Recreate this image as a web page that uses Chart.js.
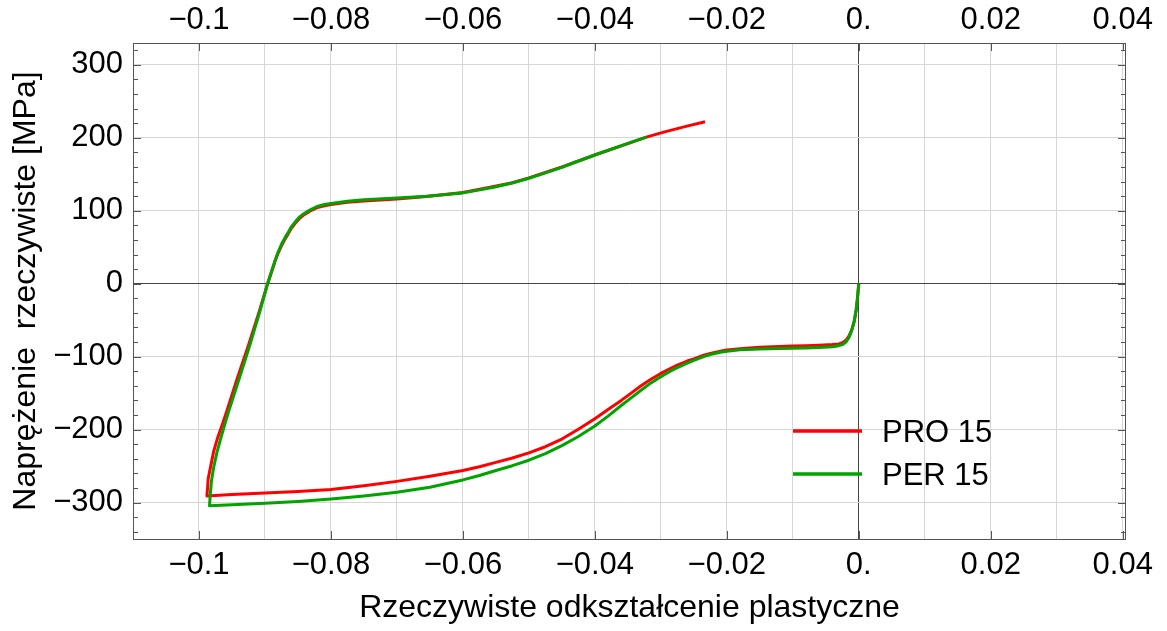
<!DOCTYPE html>
<html>
<head>
<meta charset="utf-8">
<script src="https://cdn.jsdelivr.net/npm/chart.js@4.4.1/dist/chart.umd.min.js"></script>
<style>
  html, body { margin: 0; padding: 0; background: #ffffff; }
  #wrap { width: 1167px; height: 631px; }
</style>
</head>
<body>
<div id="wrap"><canvas id="c" width="1167" height="631"></canvas></div>
<script>
// PRO 15: compression from the origin, then reversed loading into tension
const proStrain = [
  0, -0.0002, -0.0004, -0.0007, -0.0011, -0.0015, -0.0019, -0.0024, -0.003, -0.004,
  -0.006, -0.008, -0.010, -0.012, -0.015, -0.018, -0.020, -0.021, -0.0225, -0.0235,
  -0.025, -0.026, -0.0275, -0.0285, -0.030, -0.0315, -0.033, -0.0345, -0.036, -0.038,
  -0.040, -0.0425, -0.045, -0.0475, -0.050, -0.0525, -0.055, -0.0575, -0.060, -0.065,
  -0.070, -0.075, -0.080, -0.085, -0.090, -0.095, -0.0988,
  -0.0987, -0.0986, -0.0982, -0.0978, -0.0972, -0.0965, -0.0958, -0.0942, -0.0925, -0.0909,
  -0.0896, -0.0890, -0.0885, -0.0880, -0.0875, -0.0870, -0.0865, -0.0860, -0.0853, -0.0847,
  -0.0840, -0.0832, -0.0822, -0.0810, -0.0800, -0.0775, -0.0750, -0.0700, -0.0655, -0.0600,
  -0.0555, -0.0525, -0.0500, -0.0475, -0.0450, -0.0430, -0.0397, -0.0350, -0.0322, -0.0297,
  -0.0265, -0.0233
];
const proStress = [
  0, -20, -36, -52, -64, -72, -77, -80.5, -82.5, -83.5,
  -84.3, -85, -85.5, -86, -87, -89, -91, -92.5, -95.5, -98,
  -103, -106, -111.5, -116, -123, -131, -140, -150, -160, -172.5,
  -185, -199.5, -213, -223.5, -232, -239, -245, -251, -256, -264,
  -271, -277, -282, -285, -287, -289, -291,
  -280, -267, -249, -231, -212, -194, -175, -130, -84.5, -39,
  0, 16, 30, 42, 52, 60.5, 68, 76, 84, 90,
  95, 99.5, 104, 106.8, 108.5, 111.5, 113.5, 116, 119.5, 125,
  133, 138.5, 145, 152.5, 160, 166.5, 177.5, 192, 201, 207.5,
  215, 222
];

// PER 15: same loading history
const perStrain = [
  0, -0.0002, -0.0004, -0.0007, -0.0011, -0.0015, -0.0019, -0.0024, -0.003, -0.004,
  -0.006, -0.008, -0.010, -0.012, -0.015, -0.018, -0.020, -0.021, -0.0225, -0.0235,
  -0.025, -0.026, -0.0275, -0.0285, -0.030, -0.0315, -0.033, -0.0345, -0.036, -0.038,
  -0.040, -0.0425, -0.045, -0.0475, -0.050, -0.0525, -0.055, -0.0575, -0.060, -0.065,
  -0.070, -0.075, -0.080, -0.085, -0.090, -0.095, -0.0984,
  -0.0983, -0.0981, -0.0978, -0.0973, -0.0967, -0.0961, -0.0955, -0.0939, -0.0923, -0.0908,
  -0.0896, -0.0890, -0.0885, -0.0880, -0.0875, -0.0870, -0.0865, -0.0860, -0.0853, -0.0847,
  -0.0840, -0.0832, -0.0822, -0.0810, -0.0800, -0.0775, -0.0750, -0.0700, -0.0655, -0.0600,
  -0.0555, -0.0525, -0.0500, -0.0475, -0.0450, -0.0430, -0.0397, -0.0350, -0.0322
];
const perStress = [
  0, -20, -36, -52, -65, -74, -79.5, -83, -85, -86.5,
  -87.3, -88, -88.5, -89, -89.5, -90.5, -92.5, -94, -97, -100,
  -105, -109, -115, -119.5, -127.5, -136, -146, -156.5, -167, -181.5,
  -195, -209.5, -222, -233, -242, -249.5, -256, -263, -269, -279,
  -286, -291, -295, -298.5, -301, -303, -304.5,
  -290, -270, -253, -232, -212, -193, -175, -130, -84.5, -39,
  0, 17, 31, 43.5, 54, 62.5, 70, 78, 86, 92,
  96.5, 101, 105.5, 108.5, 110, 113, 115, 117.5, 120, 124.5,
  132, 138, 144.5, 152, 159.5, 166.5, 177.5, 192.5, 201
];

const seriesNames = ['PRO 15', 'PER 15'];
const seriesColors = ['#ff0000', '#00a300'];

const xTickValues = [-0.1, -0.08, -0.06, -0.04, -0.02, 0, 0.02, 0.04];
const xTickLabels = ['\u22120.1', '\u22120.08', '\u22120.06', '\u22120.04', '\u22120.02', '0.', '0.02', '0.04'];
const yTickValues = [-300, -200, -100, 0, 100, 200, 300];
const yTickLabels = ['\u2212300', '\u2212200', '\u2212100', '0', '100', '200', '300'];

const FONT = "'Liberation Sans', Arial, sans-serif";
Chart.defaults.font.family = FONT;
Chart.defaults.color = '#000';

const GRID = '#d6d6d6';
const AXIS0 = '#444444';
const FRAME = '#555555';

function toPoints(xs, ys) { return xs.map((x, i) => ({ x: x, y: ys[i] })); }
function near(a, b) { return Math.abs(a - b) < 1e-9; }
function xLabel(v) {
  const i = xTickValues.findIndex(t => near(t, v));
  return i >= 0 ? xTickLabels[i] : '';
}
function yLabel(v) {
  const i = yTickValues.findIndex(t => near(t, v));
  return i >= 0 ? yTickLabels[i] : '';
}
// vertical grid every 0.01 across the axis range
function xGridTicks(axis) {
  const out = [];
  for (let k = -10; k <= 4; k++) out.push({ value: k / 100 });
  axis.ticks = out;
}

// frame, inward tick marks on all four sides, and the in-plot legend
const framePlugin = {
  id: 'frameTicks',
  afterDatasetsDraw(chart) {
    const { ctx, chartArea: a } = chart;
    const xs = chart.scales.x, ys = chart.scales.y;
    ctx.save();
    ctx.strokeStyle = FRAME;
    ctx.lineWidth = 1;
    ctx.strokeRect(a.left + 0.5, a.top + 0.5, a.right - a.left - 1, a.bottom - a.top);
    ctx.beginPath();
    xTickValues.forEach(v => {
      const p = Math.round(xs.getPixelForValue(v)) + 0.5;
      ctx.moveTo(p, a.bottom); ctx.lineTo(p, a.bottom - 8);
      ctx.moveTo(p, a.top); ctx.lineTo(p, a.top + 8);
    });
    for (let v = -340; v <= 320; v += 20) {
      const p = Math.round(ys.getPixelForValue(v)) + 0.5;
      const len = (v % 100 === 0) ? 8 : 5;
      ctx.moveTo(a.left, p); ctx.lineTo(a.left + len, p);
      ctx.moveTo(a.right, p); ctx.lineTo(a.right - len, p);
    }
    ctx.stroke();

    // legend
    const rows = [431, 474];
    ctx.font = '31px ' + FONT;
    ctx.textBaseline = 'middle';
    ctx.textAlign = 'left';
    chart.data.datasets.forEach((ds, i) => {
      ctx.strokeStyle = ds.borderColor;
      ctx.lineWidth = 3.5;
      ctx.beginPath();
      ctx.moveTo(793, rows[i]); ctx.lineTo(862, rows[i]);
      ctx.stroke();
      ctx.fillStyle = '#000';
      ctx.fillText(ds.label, 882, rows[i] + 2);
    });
    ctx.restore();
  }
};

new Chart(document.getElementById('c'), {
  type: 'scatter',
  data: {
    datasets: [
      { label: seriesNames[0], data: toPoints(proStrain, proStress), borderColor: seriesColors[0],
        backgroundColor: seriesColors[0], showLine: true, pointRadius: 0, borderWidth: 3, tension: 0,
        borderJoinStyle: 'round', order: 1 },
      { label: seriesNames[1], data: toPoints(perStrain, perStress), borderColor: seriesColors[1],
        backgroundColor: seriesColors[1], showLine: true, pointRadius: 0, borderWidth: 3, tension: 0,
        borderJoinStyle: 'round', order: 0 }
    ]
  },
  options: {
    responsive: false,
    devicePixelRatio: 1,
    animation: false,
    layout: { padding: { left: 0, right: 41, top: 0, bottom: 0 } },
    plugins: { legend: { display: false }, tooltip: { enabled: false } },
    scales: {
      x: {
        type: 'linear', position: 'bottom', min: -0.11, max: 0.0405,
        afterBuildTicks: xGridTicks,
        afterFit: s => { s.height = 92; },
        border: { display: false },
        grid: { drawTicks: false, lineWidth: 1,
          color: c => (c.tick && near(c.tick.value, 0)) ? AXIS0 : GRID },
        ticks: { autoSkip: false, maxRotation: 0, padding: 8, font: { size: 31 }, color: '#000',
          callback: v => xLabel(v) },
        title: { display: true, text: 'Rzeczywiste odkształcenie plastyczne', font: { size: 32 },
          color: '#000', padding: { top: 0, bottom: 4 } }
      },
      xTop: {
        type: 'linear', position: 'top', min: -0.11, max: 0.0405,
        afterBuildTicks: xGridTicks,
        afterFit: s => { s.height = 43; },
        border: { display: false },
        grid: { display: false, drawTicks: false },
        ticks: { autoSkip: false, maxRotation: 0, padding: 4, font: { size: 31 }, color: '#000',
          callback: v => xLabel(v) }
      },
      y: {
        type: 'linear', position: 'left', min: -350, max: 330,
        afterBuildTicks: axis => { axis.ticks = yTickValues.map(v => ({ value: v })); },
        afterFit: s => { s.width = 133; },
        border: { display: false },
        grid: { drawTicks: false, lineWidth: 1,
          color: c => (c.tick && near(c.tick.value, 0)) ? AXIS0 : GRID },
        ticks: { autoSkip: false, padding: 10, font: { size: 31 }, color: '#000',
          callback: v => yLabel(v) },
        title: { display: true, text: 'Naprężenie  rzeczywiste [MPa]', font: { size: 32 },
          color: '#000', padding: { top: 7, bottom: 0 } }
      }
    }
  },
  plugins: [framePlugin]
});
</script>
</body>
</html>
